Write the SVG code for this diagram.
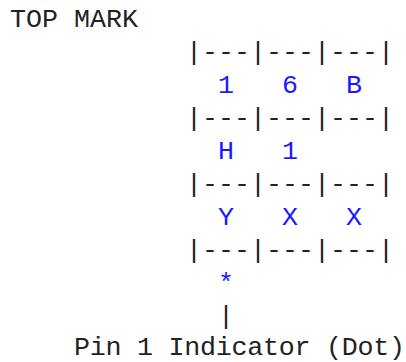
<svg xmlns="http://www.w3.org/2000/svg" width="406" height="362" viewBox="0 0 406 362">
<style>
text{font-family:"Liberation Mono","Courier New",monospace;font-size:26.667px;white-space:pre}
.k{fill:#222}
.b{fill:#1a1aff}
</style>
<rect width="406" height="362" fill="#fff"/>
<g id="title"><text class="k" x="10" y="27">TOP MARK</text></g>
<g id="connectors">
<text class="k" x="186" y="60">|---|---|---|</text>
<text class="k" x="186" y="126">|---|---|---|</text>
<text class="k" x="186" y="192">|---|---|---|</text>
<text class="k" x="186" y="258">|---|---|---|</text>
<text class="k" x="218" y="324">|</text>
</g>
<g id="row1">
<text class="b" x="218" y="93">1</text>
<text class="b" x="282" y="93">6</text>
<text class="b" x="346" y="93">B</text>
</g>
<g id="row2">
<text class="b" x="218" y="159">H</text>
<text class="b" x="282" y="159">1</text>
</g>
<g id="row3">
<text class="b" x="218" y="225">Y</text>
<text class="b" x="282" y="225">X</text>
<text class="b" x="346" y="225">X</text>
</g>
<g id="pin1"><text class="b" x="218" y="291">*</text></g>
<g id="label"><text class="k" x="74" y="355" letter-spacing="-0.25">Pin 1 Indicator (Dot)</text></g>
</svg>
